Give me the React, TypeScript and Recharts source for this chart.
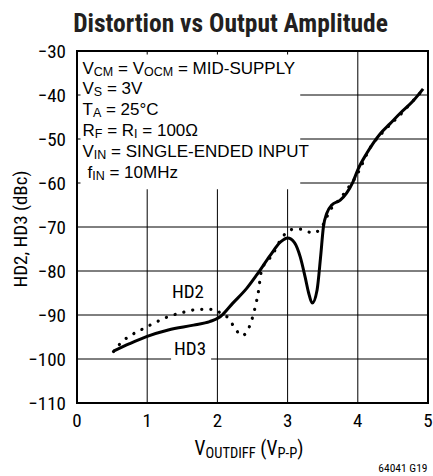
import React from 'react';
import {
  LineChart,
  Line,
  XAxis,
  YAxis,
  CartesianGrid,
  ReferenceArea,
  ReferenceDot,
  ReferenceLine,
} from 'recharts';

const xTicks = [0, 1, 2, 3, 4, 5];
const yTicks = [-110, -100, -90, -80, -70, -60, -50, -40, -30];
const topInnerTicks = [1, 2, 3];
const leftInnerTicks = [-40, -50, -60];

const hd3X = [0.52, 0.75, 0.99, 1.3, 1.66, 1.89, 2.04, 2.22, 2.42, 2.56, 2.75, 2.9, 3.0, 3.1, 3.18, 3.25, 3.3, 3.35, 3.42, 3.47, 3.51, 3.56, 3.63, 3.75, 3.84, 3.93, 4.0, 4.13, 4.32, 4.46, 4.6, 4.79, 4.93];
const hd3Y = [-98.2, -96.5, -94.9, -93.4, -92.3, -91.5, -90.4, -87.3, -83.9, -80.9, -76.5, -73.4, -72.5, -73.6, -76.8, -81.4, -85, -87.3, -84.3, -76.8, -70, -66.8, -65, -63.9, -62.3, -59.8, -57, -53.2, -48.8, -46.5, -44.2, -41.3, -38.6];

const hd2X = [0.52, 0.64, 0.78, 0.92, 1.09, 1.28, 1.51, 1.75, 1.94, 2.04, 2.16, 2.25, 2.35, 2.42, 2.49, 2.54, 2.58, 2.63, 2.78, 2.93, 2.99, 3.09, 3.18, 3.28, 3.36, 3.46, 3.52, 3.56, 3.59, 3.66, 3.79, 3.84, 3.96, 4.2, 4.36, 4.64, 4.77, 4.95];
const hd2Y = [-98.3, -96.1, -94.5, -93.3, -91.9, -90.5, -89.4, -88.7, -88.7, -89.5, -90.8, -93, -94.7, -93.8, -91.1, -88.1, -85.1, -79.8, -76.4, -72.2, -71.2, -70.5, -70.5, -71.0, -71.4, -70.5, -69.1, -67.7, -66.5, -65.2, -62.7, -61.6, -58.9, -51.4, -48.4, -43.9, -41.6, -38.5];

const hd3 = hd3X.map((x, i) => ({ x, y: hd3Y[i] }));
const hd2 = hd2X.map((x, i) => ({ x, y: hd2Y[i] }));

const FONT = '"Liberation Sans Narrow", "Roboto Condensed", "Liberation Sans", Arial, sans-serif';
const BOX_FONT = '"Liberation Sans", Arial, sans-serif';
const minus = (v: number) => String(v).replace('-', '\u2212');

export default function App() {
  const lines: { x: number; y: number; parts: [string, boolean][] }[] = [
    { x: 82.5, y: 73.5, parts: [['V', false], ['CM', true], [' = V', false], ['OCM', true], [' = MID-SUPPLY', false]] },
    { x: 82.5, y: 94, parts: [['V', false], ['S', true], [' = 3V', false]] },
    { x: 82.5, y: 115, parts: [['T', false], ['A', true], [' = 25°C', false]] },
    { x: 82.5, y: 135.5, parts: [['R', false], ['F', true], [' = R', false], ['I', true], [' = 100Ω', false]] },
    { x: 82.5, y: 156.5, parts: [['V', false], ['IN', true], [' = SINGLE-ENDED INPUT', false]] },
    { x: 87.5, y: 177.5, parts: [['f', false], ['IN', true], [' = 10MHz', false]] },
  ];
  const renderParts = (parts: [string, boolean][], m: number, s: number, off: number) => {
    let prevSub = false;
    return parts.map(([t, isSub], i) => {
      const dy = isSub === prevSub ? 0 : isSub ? off : -off;
      prevSub = isSub;
      return (
        <tspan key={i} dy={dy} fontSize={isSub ? s : m} style={{ whiteSpace: 'pre' }}>
          {t}
        </tspan>
      );
    });
  };
  return (
    <div style={{ position: 'absolute', left: 0, top: 0, width: 433, height: 476, background: '#fff' }}>
      <LineChart
        width={433}
        height={476}
        margin={{ top: 51, right: 5, left: 0, bottom: 0 }}
        style={{ fontFamily: FONT }}
      >
        <CartesianGrid stroke="#000" strokeWidth={1} horizontalValues={yTicks} verticalValues={xTicks} />
        <XAxis
          type="number"
          dataKey="x"
          domain={[0, 5]}
          ticks={xTicks}
          height={73}
          tickLine={false}
          axisLine={false}
          tickSize={0}
          tickMargin={11}
          tick={{ fill: '#000', fontSize: 19, fontFamily: FONT }}
          allowDataOverflow
        />
        <YAxis
          type="number"
          dataKey="y"
          domain={[-110, -30]}
          ticks={yTicks}
          width={77}
          tickLine={false}
          axisLine={false}
          tickSize={0}
          tickMargin={11}
          tickFormatter={minus}
          tick={{ fill: '#000', fontSize: 19, fontFamily: FONT }}
          allowDataOverflow
        />
        <ReferenceArea x1={0} x2={3.18} y1={-61.4} y2={-30} fill="#fff" fillOpacity={1} stroke="none" />
        <ReferenceArea x1={1.34} x2={1.91} y1={-101.5} y2={-98.5} fill="#fff" fillOpacity={1} stroke="none" />
        {topInnerTicks.map((t) => (
          <ReferenceLine
            key={'t' + t}
            segment={[{ x: t, y: -30 }, { x: t, y: -30.8 }]}
            stroke="#000"
            strokeWidth={1}
          />
        ))}
        {leftInnerTicks.map((t) => (
          <ReferenceLine
            key={'l' + t}
            segment={[{ x: 0, y: t }, { x: 0.05, y: t }]}
            stroke="#000"
            strokeWidth={1}
          />
        ))}
        <ReferenceArea x1={0} x2={5} y1={-110} y2={-30} fill="none" stroke="#000" strokeWidth={2} />
        <Line
          data={hd2}
          dataKey="y"
          type="monotone"
          stroke="#000"
          strokeWidth={3.2}
          strokeDasharray="0.1 9"
          strokeLinecap="round"
          dot={false}
          isAnimationActive={false}
        />
        <Line
          data={hd3}
          dataKey="y"
          type="monotone"
          stroke="#000"
          strokeWidth={3}
          dot={false}
          isAnimationActive={false}
        />
        <ReferenceDot
          x={1.58}
          y={-84.6}
          r={0}
          stroke="none"
          label={{ value: 'HD2', position: 'center', fill: '#000', fontSize: 19, fontFamily: FONT }}
        />
        <ReferenceDot
          x={1.61}
          y={-97.6}
          r={0}
          stroke="none"
          label={{ value: 'HD3', position: 'center', fill: '#000', fontSize: 19, fontFamily: FONT }}
        />
      </LineChart>
      <svg
        width={433}
        height={476}
        style={{ position: 'absolute', left: 0, top: 0, pointerEvents: 'none', fontFamily: FONT }}
      >
        <text x={230.5} y={32} textAnchor="middle" fontSize={25.5} fontWeight="bold" fill="#231f20">
          Distortion vs Output Amplitude
        </text>
        {lines.map((l, i) => (
          <text key={i} x={l.x} y={l.y} fill="#000" fontFamily={BOX_FONT}>
            {renderParts(l.parts, 17, 12.5, 2)}
          </text>
        ))}
        <text x={21} y={229} textAnchor="middle" fontSize={19} fill="#000" transform="rotate(-90 21 229)" dy={6}>
          HD2, HD3 (dBc)
        </text>
        <text x={249} y={455} textAnchor="middle" fill="#000">
          {renderParts([['V', false], ['OUTDIFF', true], [' (V', false], ['P-P', true], [')', false]], 19.5, 14.5, 3)}
        </text>
        <text x={427.5} y={471.5} textAnchor="end" fontSize={11.5} fill="#000">
          64041 G19
        </text>
      </svg>
    </div>
  );
}
